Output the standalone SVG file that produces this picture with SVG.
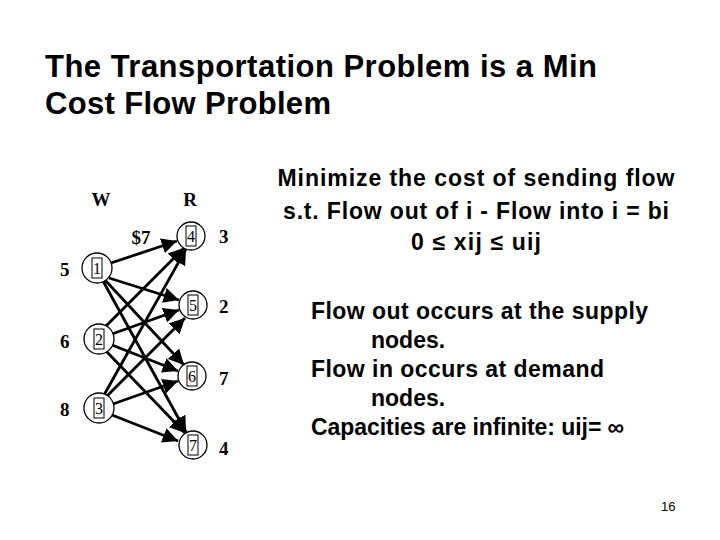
<svg xmlns="http://www.w3.org/2000/svg" width="720" height="540" viewBox="0 0 720 540">
<defs>
<marker id="ah" viewBox="0 0 10 10" refX="10" refY="5" markerWidth="5.5" markerHeight="5.5" orient="auto" markerUnits="strokeWidth">
<path d="M0,0 L10,5 L0,10 z" fill="#000"/>
</marker>
<style>
.t{font-family:"Liberation Sans",Arial,sans-serif;fill:#000}
.title{font-size:31px;font-weight:bold}
.body{font-size:23px;font-weight:bold}
.lab{font-family:"Liberation Serif","Times New Roman",serif;font-weight:bold;font-size:19px;fill:#000}
.nd circle{fill:#fff;stroke:#000;stroke-width:1.3}
.nd rect{fill:none;stroke:#000;stroke-width:1}
.nd text{font-family:"Liberation Serif","Times New Roman",serif;font-size:16px;fill:#000;text-anchor:middle}
.e line{stroke:#000;stroke-width:2.8;marker-end:url(#ah)}
</style>
</defs>
<rect width="720" height="540" fill="#fff"/>
<text class="t title" x="45" y="77" textLength="552" lengthAdjust="spacing">The Transportation Problem is a Min</text>
<text class="t title" x="45" y="114" textLength="286" lengthAdjust="spacing">Cost Flow Problem</text>
<g class="t body" text-anchor="middle">
<text x="476" y="186" textLength="397" lengthAdjust="spacing">Minimize the cost of sending flow</text>
<text x="476" y="219" textLength="386" lengthAdjust="spacing">s.t. Flow out of i - Flow into i = bi</text>
<text x="476" y="250" textLength="130" lengthAdjust="spacing">0 ≤ xij ≤ uij</text>
</g>
<g class="t body">
<text x="311" y="319" textLength="337" lengthAdjust="spacing">Flow out occurs at the supply</text>
<text x="371" y="348">nodes.</text>
<text x="311" y="377" textLength="293" lengthAdjust="spacing">Flow in occurs at demand</text>
<text x="371" y="406">nodes.</text>
<text x="311" y="435" textLength="313" lengthAdjust="spacing">Capacities are infinite: uij= ∞</text>
</g>
<text class="t" x="661" y="511" font-size="13">16</text>
<text class="lab" x="101" y="206" text-anchor="middle">W</text>
<text class="lab" x="190" y="206" text-anchor="middle">R</text>
<text class="lab" x="141" y="244" text-anchor="middle">$7</text>
<g class="lab">
<text x="60" y="276">5</text>
<text x="60" y="348">6</text>
<text x="60" y="416">8</text>
<text x="219" y="243">3</text>
<text x="219" y="313">2</text>
<text x="219" y="385">7</text>
<text x="219" y="455">4</text>
</g>
<g class="e" id="connectors">
<line x1="111" y1="263" x2="177" y2="241"/>
<line x1="109" y1="278" x2="179" y2="300"/>
<line x1="105" y1="280" x2="184" y2="365"/>
<line x1="103" y1="281" x2="186" y2="432"/>
<line x1="105" y1="327" x2="184" y2="248"/>
<line x1="112" y1="334" x2="179" y2="310"/>
<line x1="112" y1="345" x2="178" y2="371"/>
<line x1="106" y1="351" x2="185" y2="433"/>
<line x1="104" y1="395" x2="186" y2="249"/>
<line x1="107" y1="396" x2="185" y2="318"/>
<line x1="113" y1="404" x2="178" y2="381"/>
<line x1="112" y1="415" x2="178" y2="441"/>
</g>
<g class="nd" id="n1"><circle cx="97" cy="268" r="15" /><rect x="92" y="258" width="10" height="20"/><text x="97" y="274">1</text></g>
<g class="nd" id="n2"><circle cx="99" cy="339" r="15" /><rect x="94" y="329" width="10" height="20"/><text x="99" y="345">2</text></g>
<g class="nd" id="n3"><circle cx="99" cy="408" r="15" /><rect x="94" y="398" width="10" height="20"/><text x="99" y="414">3</text></g>
<g class="nd" id="n4"><circle cx="191" cy="236" r="14" /><rect x="186" y="226" width="10" height="20"/><text x="191" y="242">4</text></g>
<g class="nd" id="n5"><circle cx="193" cy="305" r="14" /><rect x="188" y="295" width="10" height="20"/><text x="193" y="311">5</text></g>
<g class="nd" id="n6"><circle cx="192" cy="376" r="14" /><rect x="187" y="366" width="10" height="20"/><text x="192" y="382">6</text></g>
<g class="nd" id="n7"><circle cx="193" cy="445" r="14" /><rect x="188" y="435" width="10" height="20"/><text x="193" y="451">7</text></g>
</svg>
